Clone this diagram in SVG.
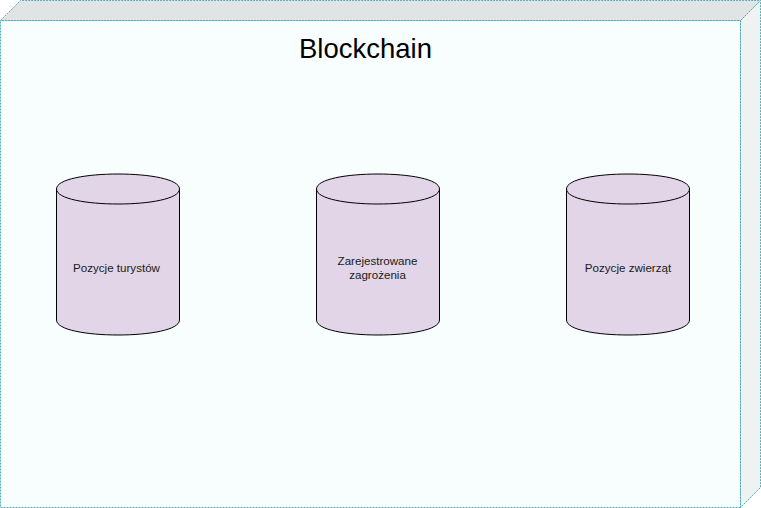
<svg xmlns="http://www.w3.org/2000/svg" width="761" height="508" viewBox="0 0 761 508">
<style>
.box{stroke:#52aeb9;stroke-width:1;stroke-dasharray:2 1}
.cyl{fill:#e1d5e7;stroke:#000;stroke-width:1}
.lbl{font-family:"Liberation Sans",Arial,sans-serif;font-size:11.6px;fill:#1a1a1a;text-anchor:middle}
.title{font-family:"Liberation Sans",Arial,sans-serif;font-size:27.5px;fill:#000;text-anchor:middle}
</style>
<rect width="761" height="508" fill="#ffffff"/>
<g id="blockchain">
<path class="box" d="M0.5,20.5 L740.5,20.5 L740.5,507.5 L0.5,507.5 Z" fill="#f8fefe"/>
<path class="box" d="M0.5,20.5 L20.5,0.5 L760.5,0.5 L740.5,20.5 Z" fill="#e1e4e4"/>
<path class="box" d="M740.5,20.5 L760.5,0.5 L760.5,487.5 L740.5,507.5 Z" fill="#eef3f2"/>
<text class="title" x="365.5" y="58.3">Blockchain</text>
</g>
<g id="connectors"></g>
<g id="pozycje-turystow">
<path class="cyl" d="M56.5,189 C56.5,169 179.5,169 179.5,189 L179.5,320 C179.5,340 56.5,340 56.5,320 Z"/>
<path class="cyl" fill="none" d="M56.5,189 C56.5,209 179.5,209 179.5,189"/>
<text class="lbl" x="116.5" y="272">Pozycje turystów</text>
</g>
<g id="zarejestrowane-zagrozenia">
<path class="cyl" d="M316.5,189 C316.5,169 439.5,169 439.5,189 L439.5,320 C439.5,340 316.5,340 316.5,320 Z"/>
<path class="cyl" fill="none" d="M316.5,189 C316.5,209 439.5,209 439.5,189"/>
<text class="lbl" x="377.5" y="265">Zarejestrowane</text>
<text class="lbl" x="377.5" y="278.5">zagrożenia</text>
</g>
<g id="pozycje-zwierzat">
<path class="cyl" d="M566.5,189 C566.5,169 689.5,169 689.5,189 L689.5,320 C689.5,340 566.5,340 566.5,320 Z"/>
<path class="cyl" fill="none" d="M566.5,189 C566.5,209 689.5,209 689.5,189"/>
<text class="lbl" x="628" y="272">Pozycje zwierząt</text>
</g>
</svg>
